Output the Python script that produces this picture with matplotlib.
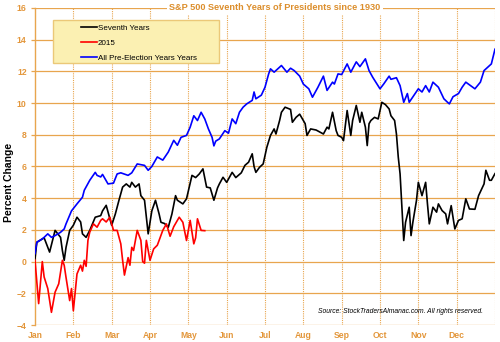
import matplotlib.pyplot as plt
from matplotlib.patches import FancyBboxPatch

# trading-day index (0..252) and cumulative % change
months = ['Jan', 'Feb', 'Mar', 'Apr', 'May', 'Jun',
          'Jul', 'Aug', 'Sep', 'Oct', 'Nov', 'Dec']
days_per_month = 21

seventh_days = [0, 1, 4, 5, 8, 11, 14, 15, 16, 17, 19, 21, 23, 25, 26, 28, 30, 33,
                36, 37, 39, 42, 44, 46, 48, 50, 52, 53, 55, 57, 58, 60, 62, 64, 66,
                68, 69, 71, 73, 75, 77, 78, 81, 83, 86, 88, 90, 92, 94, 96, 98, 100,
                101, 103, 105, 108, 110, 113, 115, 117, 119, 120, 121, 123, 125, 127,
                129, 131, 132, 134, 135, 137, 140, 141, 143, 145, 148, 149, 151, 154,
                158, 160, 161, 163, 165, 166, 168, 169, 171, 173, 174, 176, 178, 179,
                181, 182, 183, 184, 186, 188, 190, 192, 194, 195, 197, 198, 199, 200,
                201, 202, 203, 205, 206, 207, 209, 210, 212, 214, 215, 216, 218, 220,
                221, 223, 225, 226, 228, 230, 232, 234, 236, 238, 241, 243, 246, 247,
                249, 250, 252]
seventh_pct = [0.17, 1.22, 1.43, 1.5, 0.6, 1.97, 1.53, 0.7, 0.08, 0.9, 1.97, 2.29,
               2.8, 2.5, 1.75, 1.53, 1.97, 2.8, 2.9, 3.2, 3.55, 2.29, 3.0, 3.87, 4.7,
               4.9, 4.7, 5.0, 4.7, 4.9, 4.16, 3.87, 1.75, 3.2, 3.87, 3.0, 2.48, 2.4,
               2.16, 3.0, 4.16, 3.87, 3.64, 3.96, 5.44, 5.3, 5.53, 5.85, 4.7, 4.65,
               3.87, 4.65, 4.9, 5.32, 5.0, 5.63, 5.3, 5.6, 6.07, 6.27, 6.8, 6.0, 5.63,
               5.95, 6.16, 7.21, 7.96, 8.37, 8.05, 8.9, 9.42, 9.74, 9.6, 8.79, 9.1,
               9.3, 8.7, 7.96, 8.37, 8.3, 8.05, 8.48, 8.37, 9.42, 8.26, 7.96, 7.84,
               7.63, 9.53, 7.96, 8.9, 9.85, 8.79, 9.42, 8.48, 7.32, 8.7, 8.9, 9.1,
               9.0, 10.05, 9.9, 9.63, 9.2, 8.9, 8.05, 6.6, 5.53, 3.43, 1.33, 2.48,
               3.43, 1.64, 2.48, 3.87, 5.0, 4.16, 5.0, 3.64, 2.38, 3.43, 3.12, 3.64,
               3.22, 3.01, 2.38, 3.53, 2.06, 2.6, 2.7, 3.96, 3.32, 3.3, 4.16, 4.9,
               5.76, 5.13, 5.13, 5.55]

yr2015_days = [0, 2, 4, 5, 7, 9, 11, 13, 15, 16, 17, 19, 20, 21, 23, 25, 26, 27,
               28, 29, 30, 32, 34, 36, 37, 39, 41, 43, 45, 47, 48, 49, 51, 52, 53,
               54, 56, 58, 59, 60, 61, 63, 65, 67, 68, 70, 72, 74, 76, 78, 79, 81,
               83, 85, 87, 88, 89, 91, 93]
yr2015_pct = [0.08, -2.65, 0.0, -0.97, -1.7, -3.2, -1.93, -1.4, 0.08, -0.23, -1.0,
              -2.46, -1.7, -3.1, -0.78, -0.23, -0.6, 0.08, -0.3, 1.34, 1.86, 2.38,
              2.17, 2.6, 2.7, 2.5, 2.8, 1.97, 1.97, 1.12, 0.08, -0.85, 0.25, -0.23,
              0.9, 0.7, 1.97, 1.34, 0.0, -0.1, 1.34, 0.08, 0.8, 1.03, 1.34, 1.97,
              2.38, 1.6, 2.2, 2.6, 2.8, 2.48, 1.33, 2.6, 1.12, 1.5, 2.7, 1.97, 1.95]

pre_days = [0, 1, 4, 5, 7, 9, 11, 14, 16, 17, 20, 23, 26, 27, 30, 33, 34, 36, 37,
            40, 43, 45, 47, 51, 53, 56, 60, 62, 64, 67, 70, 73, 76, 78, 80, 83, 85,
            87, 89, 91, 93, 95, 97, 98, 99, 101, 104, 106, 108, 110, 112, 114, 116,
            119, 120, 121, 124, 126, 128, 129, 131, 135, 138, 140, 142, 145, 147,
            150, 152, 155, 158, 160, 163, 164, 166, 168, 171, 173, 176, 178, 181,
            183, 185, 189, 191, 194, 195, 198, 200, 202, 204, 205, 210, 212, 214,
            216, 218, 221, 224, 226, 227, 229, 232, 234, 236, 241, 244, 246, 248,
            250, 252]
pre_pct = [0.5, 1.22, 1.43, 1.53, 1.75, 1.53, 1.64, 1.85, 2.06, 2.38, 3.2, 3.64,
           4.06, 4.5, 5.13, 5.63, 5.44, 5.34, 5.5, 4.9, 4.95, 5.53, 5.6, 5.44, 5.6,
           6.16, 6.07, 5.76, 6.0, 6.6, 6.4, 6.91, 7.65, 7.34, 7.84, 7.96, 8.48, 9.2,
           8.9, 9.42, 9.0, 8.37, 7.84, 7.3, 7.6, 7.74, 8.26, 8.1, 9.0, 8.7, 9.42,
           9.74, 9.95, 10.17, 10.7, 10.27, 10.5, 11.0, 11.84, 12.16, 11.95, 12.37,
           11.95, 12.2, 12.05, 11.7, 11.2, 10.9, 10.37, 11.0, 11.7, 10.8, 11.32,
           11.2, 11.84, 11.8, 12.47, 11.95, 12.6, 12.3, 12.79, 12.05, 11.63, 10.9,
           11.2, 11.7, 11.5, 11.6, 11.1, 10.05, 10.6, 10.05, 10.9, 10.7, 11.1, 10.7,
           11.32, 11.0, 10.27, 10.05, 9.95, 10.4, 10.6, 11.0, 11.32, 10.9, 11.32,
           12.05, 12.26, 12.47, 13.4]

ORANGE = '#E8A54E'
LABEL = '#E3963A'

plt.rcParams['font.family'] = ['Liberation Sans', 'DejaVu Sans']
fig = plt.figure(figsize=(5, 3.42), dpi=100)
ax = fig.add_axes([0.07, 0.0497, 0.92, 0.927])

n_days = days_per_month * len(months)
ax.set_xlim(0, n_days)
ax.set_ylim(-4, 16)

# grid: solid horizontal, dotted vertical month dividers
for y in range(-4, 17, 2):
    ax.axhline(y, color=ORANGE, lw=0.9, zorder=1)
for i in range(1, len(months) + 1):
    ax.axvline(i * days_per_month, color=ORANGE, lw=0.8, ls=(0, (1, 1)), zorder=1)

for s in ['top', 'right', 'bottom']:
    ax.spines[s].set_visible(False)
ax.spines['left'].set_color(ORANGE)
ax.spines['left'].set_linewidth(1.0)

ax.set_yticks(range(-4, 17, 2))
ax.set_xticks([i * days_per_month for i in range(len(months))])
ax.set_xticklabels(months)
ax.tick_params(axis='y', colors=ORANGE, length=3, width=0.9, labelsize=6.2,
               labelcolor=LABEL, pad=3)
ax.tick_params(axis='x', length=0, labelsize=6.2, labelcolor=LABEL, pad=4)
for lab in ax.get_xticklabels() + ax.get_yticklabels():
    lab.set_fontweight('bold')

ax.plot(seventh_days, seventh_pct, color='black', lw=1.2, zorder=3, label='Seventh Years')
ax.plot(yr2015_days, yr2015_pct, color='#FF0000', lw=1.2, zorder=4, label='2015')
ax.plot(pre_days, pre_pct, color='#0000FF', lw=1.2, zorder=3,
        label='All Pre-Election Years Years')

ax.set_ylabel('Percent Change', fontsize=7.5, fontweight='bold')
ax.yaxis.set_label_coords(-0.046, 0.45)

ax.text(0.522, 1.0, 'S&P 500 Seventh Years of Presidents since 1930',
        transform=ax.transAxes, ha='center', va='center', fontsize=6.6,
        fontweight='bold', color='#DC8E2C', zorder=6,
        bbox=dict(facecolor='white', edgecolor='none', pad=1.5))

# legend panel
box = FancyBboxPatch((0.039, 0.826), 0.361, 0.136, boxstyle='square,pad=0',
                     transform=ax.transAxes, facecolor='#FBF0B2',
                     edgecolor='#EBC878', lw=1.0, zorder=5)
ax.add_patch(box)
leg = ax.legend(loc='upper left', bbox_to_anchor=(0.085, 0.97), frameon=False,
                fontsize=5.8, handlelength=2.0, handletextpad=0.15,
                labelspacing=0.95, borderpad=0.3)
leg.set_zorder(6)

ax.text(0.974, 0.044, 'Source: StockTradersAlmanac.com. All rights reserved.',
        transform=ax.transAxes, ha='right', va='center', fontsize=4.9,
        style='italic', color='black', zorder=6)

fig.savefig('out.png', dpi=100, facecolor='white')
